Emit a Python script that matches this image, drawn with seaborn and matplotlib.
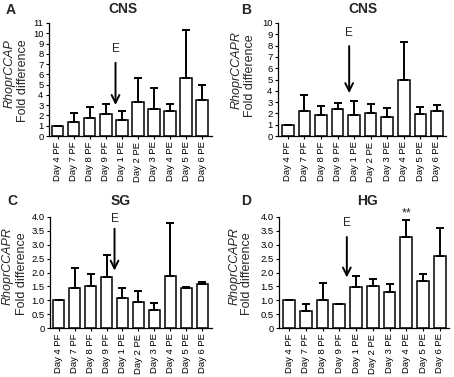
import numpy as np
import pandas as pd
import matplotlib
matplotlib.use("Agg")
import matplotlib.pyplot as plt
import seaborn as sns

days = ["Day 4 PF", "Day 7 PF", "Day 8 PF", "Day 9 PF", "Day 1 PE",
        "Day 2 PE", "Day 3 PE", "Day 4 PE", "Day 5 PE", "Day 6 PE"]

a_mean = [1.0, 1.4, 1.8, 2.1, 1.6, 3.3, 2.6, 2.4, 5.6, 3.5]
a_top = [1.0, 2.25, 2.8, 3.15, 2.4, 5.6, 4.65, 3.15, 10.3, 4.95]

b_mean = [1.0, 2.25, 1.9, 2.4, 1.9, 2.05, 1.7, 5.0, 1.95, 2.2]
b_top = [1.0, 3.65, 2.65, 2.95, 3.1, 2.8, 2.5, 8.35, 2.55, 2.75]

c_mean = [1.0, 1.45, 1.53, 1.85, 1.08, 0.93, 0.66, 1.88, 1.43, 1.58]
c_top = [1.0, 2.15, 1.93, 2.62, 1.43, 1.32, 0.89, 3.8, 1.46, 1.65]

d_mean = [1.0, 0.6, 1.0, 0.85, 1.47, 1.5, 1.3, 3.27, 1.7, 2.6]
d_top = [1.0, 0.88, 1.62, 0.88, 1.87, 1.78, 1.6, 3.88, 1.96, 3.62]

a_ticks = list(range(0, 12))
b_ticks = list(range(0, 11))
cd_ticks = [0, 0.5, 1.0, 1.5, 2.0, 2.5, 3.0, 3.5, 4.0]
cd_ticklabels = ["0", "0.5", "1.0", "1.5", "2.0", "2.5", "3.0", "3.5", "4.0"]

sns.set_theme(style="ticks")
plt.rcParams['font.family'] = ['Liberation Sans', 'DejaVu Sans']

W, H = 454, 377
fig = plt.figure(figsize=(W / 100, H / 100), dpi=100)


def px_axes(x0, x1, ytop, ybot):
    return fig.add_axes([x0 / W, (H - ybot) / H, (x1 - x0) / W, (ybot - ytop) / H])


panels = [
    dict(box=(49, 212, 23, 136), mean=a_mean, top=a_top, ticks=a_ticks, tl=[str(t) for t in a_ticks],
         xlim=(-0.55, 9.62), letter="A", title="CNS", gene="RhoprCCAP",
         arrow_x=3.6, arrow=(7.4, 2.75), e_y=8.5,
         letter_xy=(11, 10), title_xy=(123, 9), gene_xy=(10, 74), fold_xy=(23, 81)),
    dict(box=(278, 446, 23, 136), mean=b_mean, top=b_top, ticks=b_ticks, tl=[str(t) for t in b_ticks],
         xlim=(-0.6, 9.55), letter="B", title="CNS", gene="RhoprCCAPR",
         arrow_x=3.7, arrow=(8.2, 3.55), e_y=9.15,
         letter_xy=(246, 10), title_xy=(363, 9), gene_xy=(237, 70), fold_xy=(250, 76)),
    dict(box=(50, 212, 217, 328), mean=c_mean, top=c_top, ticks=cd_ticks, tl=cd_ticklabels,
         xlim=(-0.55, 9.62), letter="C", title="SG", gene="RhoprCCAPR",
         arrow_x=3.5, arrow=(3.68, 1.97), e_y=3.93,
         letter_xy=(12, 201), title_xy=(121, 201), gene_xy=(8, 266), fold_xy=(22, 274)),
    dict(box=(279, 449, 217, 328), mean=d_mean, top=d_top, ticks=cd_ticks, tl=cd_ticklabels,
         xlim=(-0.6, 9.55), letter="D", title="HG", gene="RhoprCCAPR",
         arrow_x=3.45, arrow=(3.38, 1.72), e_y=3.78,
         letter_xy=(246, 201), title_xy=(368, 201), gene_xy=(235, 266), fold_xy=(247, 274)),
]

for p in panels:
    x0, x1, yt, yb = p["box"]
    ax = px_axes(x0, x1, yt, yb)
    df = pd.DataFrame({"day": days, "val": p["mean"]})
    sns.barplot(data=df, x="day", y="val", ax=ax, color="white", edgecolor="black",
                linewidth=1.1, width=0.7, errorbar=None, order=days)
    m = np.array(p["mean"])
    t = np.array(p["top"])
    ax.errorbar(np.arange(len(days)), m, yerr=[np.zeros_like(m), t - m], fmt="none",
                ecolor="black", elinewidth=1.4, capsize=2.8, capthick=1.4, zorder=3)
    ax.set_xlim(*p["xlim"])
    ax.set_ylim(p["ticks"][0], p["ticks"][-1])
    ax.set_yticks(p["ticks"])
    ax.set_yticklabels(p["tl"], fontsize=6.8)
    ax.set_xticks(range(len(days)))
    ax.set_xticklabels(days, rotation=90, fontsize=6.8)
    ax.tick_params(axis="both", length=2.5, width=0.8, pad=1.5, colors="black")
    ax.set_xlabel("")
    ax.set_ylabel("")
    for s in ["top", "right"]:
        ax.spines[s].set_visible(False)
    for s in ["left", "bottom"]:
        ax.spines[s].set_linewidth(0.9)
        ax.spines[s].set_color("black")
    ax.annotate("", xy=(p["arrow_x"], p["arrow"][1]), xytext=(p["arrow_x"], p["arrow"][0]),
                arrowprops=dict(arrowstyle="->", color="black", lw=1.4, mutation_scale=14))
    ax.text(p["arrow_x"], p["e_y"], "E", ha="center", va="center", fontsize=8.5)
    if p["letter"] == "D":
        ax.text(7, 4.12, "**", ha="center", va="center", fontsize=9)
    lx, ly = p["letter_xy"]
    fig.text(lx / W, (H - ly) / H, p["letter"], fontsize=10, fontweight="bold",
             ha="center", va="center")
    tx, ty = p["title_xy"]
    fig.text(tx / W, (H - ty) / H, p["title"], fontsize=10, fontweight="bold",
             ha="center", va="center")
    gx, gy = p["gene_xy"]
    fig.text(gx / W, (H - gy) / H, p["gene"], fontsize=9, style="italic", rotation=90,
             ha="center", va="center")
    fx, fy = p["fold_xy"]
    fig.text(fx / W, (H - fy) / H, "Fold difference", fontsize=9, rotation=90,
             ha="center", va="center")

fig.savefig("out.png", dpi=100, facecolor="white")
